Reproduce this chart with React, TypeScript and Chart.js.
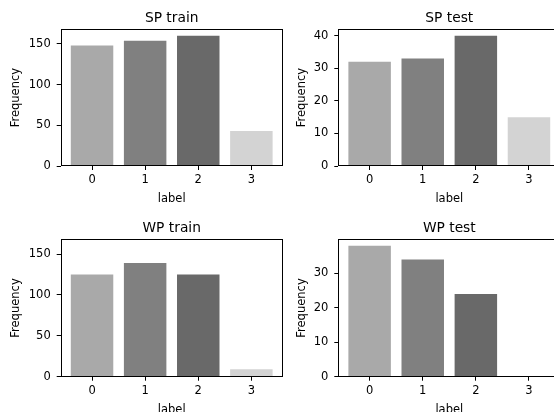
import React, { useEffect, useRef } from "react";
import { Chart, registerables } from "chart.js";

Chart.register(...registerables);

// ---- data ----
const categories = [0, 1, 2, 3];
const barColors = ["#a9a9a9", "#808080", "#696969", "#d3d3d3"];
const spTrain = [148, 154, 160, 43];
const spTest = [32, 33, 40, 15];
const wpTrain = [125, 139, 125, 9];
const wpTest = [38, 34, 24, 0];
const panelTitles = ["SP train", "SP test", "WP train", "WP test"];
const yTicksTrain = [0, 50, 100, 150];
const yTicksSpTest = [0, 10, 20, 30, 40];
const yTicksWpTest = [0, 10, 20, 30];
const yMaxTrain = 168;
const yMaxSpTest = 42;
const yMaxWpTest = 39.9;
const xAxisLabel = "label";
const yAxisLabel = "Frequency";

// ---- layout ----
const CW = 580;
const CH = 430;
const XH = 40;
const FONT = "'DejaVu Sans', sans-serif";
const TICK_SIZE = 11.5;
const TITLE_SIZE = 13.8;

type Panel = {
  title: string;
  values: number[];
  yMax: number;
  yTicks: number[];
  l: number;
  t: number;
  r: number;
  b: number;
  yW: number;
};

const panels: Panel[] = [
  { title: panelTitles[0], values: spTrain, yMax: yMaxTrain, yTicks: yTicksTrain, l: 60.7, t: 29.3, r: 282.7, b: 166, yW: 51.7 },
  { title: panelTitles[1], values: spTest, yMax: yMaxSpTest, yTicks: yTicksSpTest, l: 338.3, t: 29.3, r: 560.3, b: 166, yW: 43.4 },
  { title: panelTitles[2], values: wpTrain, yMax: yMaxTrain, yTicks: yTicksTrain, l: 60.7, t: 239.3, r: 282.7, b: 376.7, yW: 51.7 },
  { title: panelTitles[3], values: wpTest, yMax: yMaxWpTest, yTicks: yTicksWpTest, l: 338.3, t: 239.3, r: 560.3, b: 376.7, yW: 43.4 },
];

const framePlugin = {
  id: "frame",
  afterDraw(chart: any, _args: any, opts: any) {
    const { left, top, right, bottom } = chart.chartArea;
    const ctx = chart.ctx;
    ctx.save();
    ctx.strokeStyle = "#000";
    ctx.lineWidth = 1;
    const L = Math.round(left) + 0.5;
    const T = Math.round(top) + 0.5;
    const R = Math.round(right) - 0.5;
    const B = Math.round(bottom) - 0.5;
    ctx.strokeRect(L, T, R - L, B - T);
    ctx.fillStyle = "#000";
    ctx.font = `${TITLE_SIZE}px ${FONT}`;
    ctx.textAlign = "center";
    ctx.textBaseline = "alphabetic";
    ctx.fillText(opts.title, (left + right) / 2, top - 7);
    ctx.restore();
  },
};

function SubChart({ p }: { p: Panel }) {
  const ref = useRef<HTMLCanvasElement>(null);
  useEffect(() => {
    if (!ref.current) return;
    const font = { family: FONT, size: TICK_SIZE };
    const chart = new Chart(ref.current, {
      type: "bar",
      data: {
        datasets: [
          {
            data: categories.map((c, i) => ({ x: c, y: p.values[i] })),
            backgroundColor: barColors,
            borderWidth: 0,
            categoryPercentage: 1,
            barPercentage: 0.8,
          } as any,
        ],
      },
      plugins: [framePlugin as any],
      options: {
        responsive: false,
        animation: false,
        devicePixelRatio: 1,
        layout: {
          padding: { left: p.l - p.yW, top: p.t, right: CW - p.r, bottom: CH - p.b - XH },
        },
        plugins: {
          legend: { display: false },
          tooltip: { enabled: false },
          frame: { title: p.title },
        } as any,
        scales: {
          x: {
            type: "linear",
            min: -0.59,
            max: 3.59,
            offset: false,
            afterBuildTicks: (s: any) => {
              s.ticks = categories.map((v) => ({ value: v }));
            },
            afterFit: (s: any) => {
              s.height = XH;
            },
            grid: { display: true, offset: false, drawOnChartArea: false, drawTicks: true, tickLength: 4, color: "#000", lineWidth: 1 },
            border: { display: false },
            ticks: { color: "#000", font, padding: 3, maxRotation: 0, autoSkip: false, callback: (v: any) => String(v) },
            title: { display: true, text: xAxisLabel, color: "#000", font, padding: 0 },
          },
          y: {
            type: "linear",
            min: 0,
            max: p.yMax,
            afterBuildTicks: (s: any) => {
              s.ticks = p.yTicks.map((v) => ({ value: v }));
            },
            afterFit: (s: any) => {
              s.width = p.yW;
            },
            grid: { display: true, drawOnChartArea: false, drawTicks: true, tickLength: 4, color: "#000", lineWidth: 1 },
            border: { display: false },
            ticks: { color: "#000", font, padding: 6, autoSkip: false, callback: (v: any) => String(v) },
            title: { display: true, text: yAxisLabel, color: "#000", font, padding: 0 },
          },
        },
      } as any,
    });
    return () => chart.destroy();
  }, [p]);
  return (
    <canvas
      ref={ref}
      width={CW}
      height={CH}
      style={{ position: "absolute", left: 0, top: 0, width: CW, height: CH }}
    />
  );
}

export default function App() {
  return (
    <div
      style={{
        position: "absolute",
        left: 0,
        top: 0,
        width: 554,
        height: 412,
        overflow: "hidden",
        background: "#fff",
      }}
    >
      {panels.map((p, i) => (
        <SubChart key={i} p={p} />
      ))}
    </div>
  );
}
